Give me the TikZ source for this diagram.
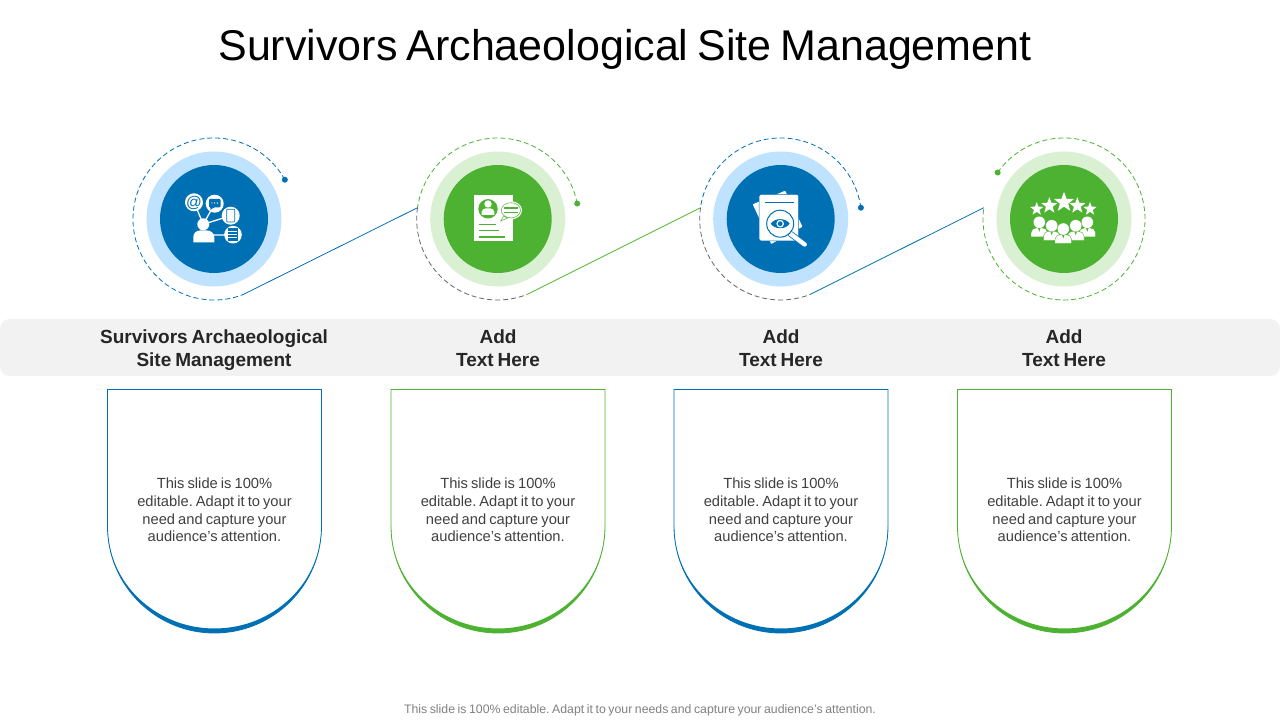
\documentclass[tikz,border=0pt]{standalone}
\usepackage{fontspec}
\setmainfont{Liberation Sans}[WordSpace=0.75]
\usetikzlibrary{positioning, calc, arrows.meta, shapes.geometric}
\definecolor{sitebluedark}{HTML}{0070B5}
\definecolor{sitebluepale}{HTML}{BFE3FF}
\definecolor{sitegreendark}{HTML}{4DB231}
\definecolor{sitegreenpale}{HTML}{DAF0D2}
\definecolor{bandgray}{HTML}{F2F2F2}
\definecolor{dashgray}{HTML}{666666}
\definecolor{bodygray}{HTML}{404040}
\tikzset{
  corestyle/.style={circle,inner sep=0pt,minimum size=108pt,fill=#1},
  halostyle/.style={circle,inner sep=0pt,minimum size=135pt,fill=#1},
  ringstyle/.style={draw=#1,line width=0.8pt,dash pattern=on 5pt off 3pt},
  linkstyle/.style={draw=#1,line width=0.8pt},
  headstyle/.style={font=\fontsize{19}{23}\selectfont\bfseries,text=black!85,align=center},
  bodystyle/.style={font=\fontsize{14.7}{17.6}\selectfont,text=bodygray,align=center},
  starstyle/.style={star,star points=5,star point ratio=2.4,fill=white,inner sep=0pt,minimum size=#1},
}
% shield outline with a bottom edge that thickens towards the middle
\newcommand{\shield}[2]{
  \draw[#2,line width=0.8pt] (#1-107,330.5) -- (#1+107,330.5) -- (#1+107,194)
    arc[start angle=0,end angle=-180,radius=107] -- cycle;
  \fill[#2] (#1-107,194) arc[start angle=180,end angle=360,radius=107]
    arc[start angle=0,end angle=-180,x radius=107,y radius=102.5] -- cycle;
}
% one figure of the crowd in the rating icon
\newcommand{\crewmember}[2]{
  \filldraw[fill=white,draw=sitegreendark,line width=0.4pt]
    (#1-8.3,#2-14.6) -- (#1-8.3,#2-10.5) to[out=90,in=180] (#1-3,#2-5.6) -- (#1+3,#2-5.6)
    to[out=0,in=90] (#1+8.3,#2-10.5) -- (#1+8.3,#2-14.6) -- cycle;
  \fill[sitegreendark] (#1-1.3,#2-5.6) -- (#1,#2-9.5) -- (#1+1.3,#2-5.6) -- cycle;
  \fill[white] (#1,#2) circle (5.8);
}
\begin{document}
\begin{tikzpicture}[x=1pt,y=1pt]
  \frenchspacing
  \useasboundingbox (0,0) rectangle (1280,720);
  \node (title) at (625,670.5) {\fontsize{43}{50}\selectfont Survivors Archaeological Site Management};
  \node (foot) at (640,9.5) [text=black!50] {\fontsize{12.3}{14}\selectfont This slide is 100\% editable. Adapt it to your needs and capture your audience's attention.};

  \fill[bandgray,rounded corners=10pt] (0,344) rectangle (1280,401);

  % halos and cores
  \node (halo1) at (214,501) [halostyle=sitebluepale] {};
  \node (halo2) at (497.7,501) [halostyle=sitegreenpale] {};
  \node (halo3) at (780.7,501) [halostyle=sitebluepale] {};
  \node (halo4) at (1064,501) [halostyle=sitegreenpale] {};
  \node (core1) at (halo1) [corestyle=sitebluedark] {};
  \node (core2) at (halo2) [corestyle=sitegreendark] {};
  \node (core3) at (halo3) [corestyle=sitebluedark] {};
  \node (core4) at (halo4) [corestyle=sitegreendark] {};

  % ring ends
  \coordinate (tail1) at ($(core1)+(-69:81)$);
  \coordinate (tail2) at ($(core2)+(-69:81)$);
  \coordinate (tail3) at ($(core3)+(-69:81)$);
  \coordinate (lead2) at ($(core2)+(172:81)$);
  \coordinate (lead3) at ($(core3)+(172:81)$);
  \coordinate (lead4) at ($(core4)+(172:81)$);
  \coordinate (dot1) at ($(core1)+(29:81)$);
  \coordinate (dot2) at ($(core2)+(11:81)$);
  \coordinate (dot3) at ($(core3)+(8:81)$);
  \coordinate (dot4) at ($(core4)+(145:81)$);

  % dashed rings
  \draw[ringstyle=sitebluedark] (dot1) arc[start angle=29,end angle=291,radius=81];
  \draw[ringstyle=sitegreendark] (dot2) arc[start angle=11,end angle=172,radius=81];
  \draw[ringstyle=dashgray] (lead2) arc[start angle=172,end angle=291,radius=81];
  \draw[ringstyle=sitebluedark] (dot3) arc[start angle=8,end angle=172,radius=81];
  \draw[ringstyle=dashgray] (lead3) arc[start angle=172,end angle=291,radius=81];
  \draw[ringstyle=sitegreendark] (dot4) arc[start angle=145,end angle=-188,radius=81];

  \fill[sitebluedark] (dot1) circle (3pt);
  \fill[sitegreendark] (dot2) circle (3pt);
  \fill[sitebluedark] (dot3) circle (3pt);
  \fill[sitegreendark] (dot4) circle (3pt);

  \draw[linkstyle=sitebluedark] (tail1) -- (lead2);
  \draw[linkstyle=sitegreendark] (tail2) -- (lead3);
  \draw[linkstyle=sitebluedark] (tail3) -- (lead4);

  % contacts icon
  \begin{scope}[shift={(core1.center)}]
    \draw[white,line width=1.3pt] (-10.7,-5.3) -- (-20,16.7) (-10.7,-5.3) -- (0.7,15.3)
      (-10.7,-5.3) -- (16.7,3.3) (-4,-16) -- (19,-16);
    \fill[white] (-20,16.7) circle (9) (0.7,15.3) circle (9) (16.7,3.3) circle (9)
      (19,-15.7) circle (8.8) (-10.7,-5.3) circle (6);
    \fill[white] (-20.7,-23.3) -- (-20.7,-18) to[out=90,in=180] (-14,-11.5) -- (-7,-11.5)
      to[out=0,in=90] (0.3,-18) -- (0.3,-23.3) -- cycle;
    \node (atsign) at (-20,16.2) [inner sep=0pt,text=sitebluedark] {\fontsize{15.5}{15.5}\selectfont @};
    \fill[sitebluedark,rounded corners=1pt] (-5,11.5) -- (-3,11.5) -- (-4,8.5) -- (-0.5,11.5)
      -- (6.5,11.5) -- (6.5,20) -- (-5,20) -- cycle;
    \fill[white] (-2,16) circle (0.7) (0.7,16) circle (0.7) (3.4,16) circle (0.7);
    \draw[sitebluedark,line width=0.7pt,rounded corners=0.7pt] (12.7,-3) rectangle (20.7,9.8);
    \fill[sitebluedark] (13.5,-22) rectangle (24,-9.5);
    \draw[white,line width=0.8pt] (14,-12.5) -- (23,-12.5) (14,-15.5) -- (23,-15.5) (14,-18.5) -- (23,-18.5);
  \end{scope}

  % resume icon
  \begin{scope}[shift={(core2.center)}]
    \fill[white] (-23.5,24) rectangle (15.2,-22);
    \fill[sitegreendark] (-9.7,10.2) circle (9.7);
    \fill[white] (-9.7,15) circle (3.7);
    \fill[white] (-16,4.2) -- (-16,7) to[out=90,in=180] (-12,10.6) -- (-7.4,10.6)
      to[out=0,in=90] (-3.4,7) -- (-3.4,4.2) -- cycle;
    \draw[sitegreendark,line width=1.5pt] (-19.2,-5.3) -- (-1.5,-5.3) (-19.2,-11.7) -- (0.8,-11.7)
      (-19.2,-18) -- (6.8,-18);
    \filldraw[fill=white,draw=white,line width=1.6pt] (13.2,8.7) ellipse (10.3 and 8.3);
    \filldraw[fill=white,draw=sitegreendark,line width=0.5pt] (6,3) -- (3,-2) -- (10,1) -- cycle;
    \draw[sitegreendark,line width=0.5pt,fill=white] (13.2,8.7) ellipse (9.6 and 7.6);
    \draw[sitegreendark,line width=1.2pt] (6.5,11) -- (20,11) (6.5,6.2) -- (20,6.2);
  \end{scope}

  % document review icon
  \begin{scope}[shift={(core3.center)}]
    \fill[white,rounded corners=0.7pt] (4.5,28.3) -- (-28,14.7) -- (-9.5,-25) -- (21.8,-7.7) -- cycle;
    \draw[sitebluedark,line width=0.5pt,fill=white,rounded corners=1.5pt] (-21.5,24.7) rectangle (17.8,-22);
    \draw[sitebluedark,line width=1.5pt] (-16.2,16.3) -- (12.8,16.3);
    \draw[sitebluedark,line width=6pt,line cap=round] (10,-15) -- (24,-25.5);
    \draw[white,line width=4.4pt,line cap=round] (10,-15) -- (24,-25.5);
    \draw[sitebluedark,line width=1pt,fill=white] (-0.5,-4.7) circle (13.5);
    \fill[sitebluedark] (-10,-4.7) to[out=55,in=125] (9,-4.7) to[out=-125,in=-55] cycle;
    \fill[white] (-0.5,-4.7) circle (3.8);
    \fill[sitebluedark] (-0.5,-4.7) circle (2.4);
  \end{scope}

  % rating icon
  \begin{scope}[shift={(core4.center)}]
    \node (star1) at (-27.3,10) [starstyle=14pt] {};
    \node (star2) at (-14.7,13.3) [starstyle=17pt] {};
    \node (star3) at (0,16.7) [starstyle=21pt] {};
    \node (star4) at (13.3,13.3) [starstyle=17pt] {};
    \node (star5) at (26,10) [starstyle=14pt] {};
    \crewmember{-24.7}{-3.3}
    \crewmember{23.3}{-3.3}
    \crewmember{-12.3}{-6.7}
    \crewmember{11.7}{-6.7}
    \crewmember{-0.7}{-10}
  \end{scope}

  \node (head1) at (214,369.5) [headstyle] {Survivors Archaeological\\Site Management};
  \node (head2) at (498,371.5) [headstyle] {Add\\Text Here};
  \node (head3) at (781,371.5) [headstyle] {Add\\Text Here};
  \node (head4) at (1064,371.5) [headstyle] {Add\\Text Here};

  \shield{214.5}{sitebluedark}
  \shield{498}{sitegreendark}
  \shield{781}{sitebluedark}
  \shield{1064.5}{sitegreendark}

  \node (body1) at (214.5,210) [bodystyle] {This slide is 100\%\\editable. Adapt it to your\\need and capture your\\audience's attention.};
  \node (body2) at (498,210) [bodystyle] {This slide is 100\%\\editable. Adapt it to your\\need and capture your\\audience's attention.};
  \node (body3) at (781,210) [bodystyle] {This slide is 100\%\\editable. Adapt it to your\\need and capture your\\audience's attention.};
  \node (body4) at (1064.5,210) [bodystyle] {This slide is 100\%\\editable. Adapt it to your\\need and capture your\\audience's attention.};
\end{tikzpicture}
\end{document}
